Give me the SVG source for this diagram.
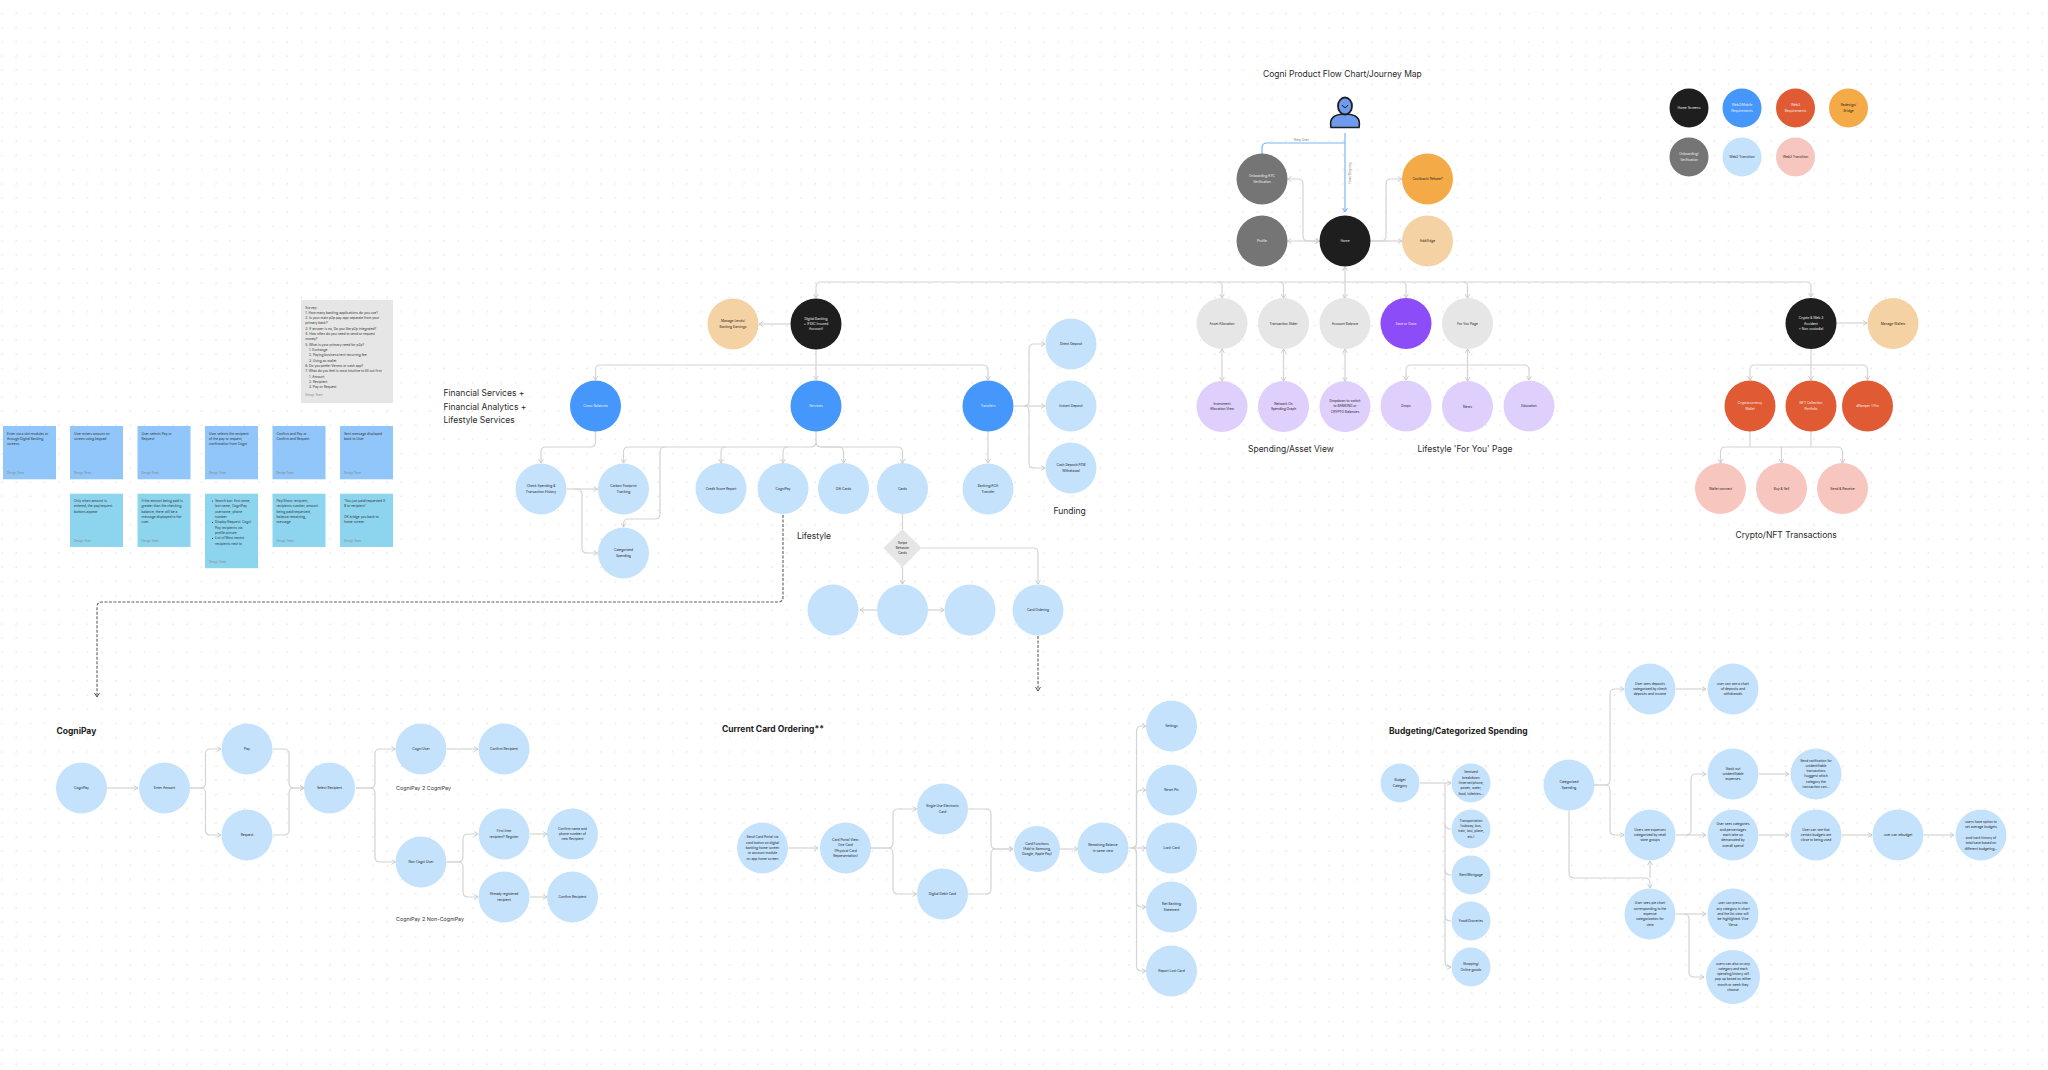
<svg xmlns="http://www.w3.org/2000/svg" width="2048" height="1070" viewBox="0 0 2048 1070">
<style>
text{font-family:"Inter","Liberation Sans",sans-serif}
.n text{font-size:3.3px;text-anchor:middle;fill:#1e1e1e}
.n .w{fill:#f2f2f2}
.dk{fill:#1e1e1e}.bl{fill:#4597fb}.rd{fill:#e05a33}.or{fill:#f4ab47}.gy{fill:#757575}.lb{fill:#c4e2fc}.pk{fill:#f7c6bf}.pc{fill:#f5d2a3}.lg{fill:#e6e6e6}.li{fill:#dfcffc}.pu{fill:#8c4df8}
.c{fill:none;stroke:#d4d4d4;stroke-width:1.2}
.a{marker-end:url(#ar)}
.b{marker-start:url(#al);marker-end:url(#ar)}
.blue{fill:none;stroke:#76b8fb;stroke-width:1.2}
.dash{fill:none;stroke:#5e5e5e;stroke-width:1.1;stroke-dasharray:3 1.5}
.h{font-size:8.5px;fill:#2a2a2a}
.hb{font-size:8.5px;font-weight:700;fill:#222}
.s{font-size:5.4px;fill:#333}
.st text{font-size:3.3px;fill:#333}
.st .f{font-size:2.8px;fill:#8a8a8a}
.lbl{font-size:3.2px;fill:#777}
</style>
<defs>
<pattern id="dots" x="1.7" y="-0.9" width="14.27" height="14.2" patternUnits="userSpaceOnUse"><rect x="-0.7" y="-0.7" width="1.4" height="1.4" fill="#d6d6d6"/><rect x="13.57" y="-0.7" width="0.7" height="1.4" fill="#d6d6d6"/><rect x="-0.7" y="13.5" width="1.4" height="0.7" fill="#d6d6d6"/></pattern>
<marker id="ar" viewBox="0 0 6 6" refX="5" refY="3" markerWidth="6" markerHeight="6" orient="auto" markerUnits="userSpaceOnUse"><path d="M1 .5L5 3L1 5.500" fill="none" stroke="#c8c8c8" stroke-width=".9"/></marker>
<marker id="al" viewBox="0 0 6 6" refX="1" refY="3" markerWidth="6" markerHeight="6" orient="auto" markerUnits="userSpaceOnUse"><path d="M5 .5L1 3L5 5.500" fill="none" stroke="#c8c8c8" stroke-width=".9"/></marker>
<marker id="ab" viewBox="0 0 6 6" refX="5" refY="3" markerWidth="6" markerHeight="6" orient="auto" markerUnits="userSpaceOnUse"><path d="M1 .5L5 3L1 5.500" fill="none" stroke="#6aaefa" stroke-width="1"/></marker>
<marker id="ad" viewBox="0 0 6 6" refX="5" refY="3" markerWidth="6" markerHeight="6" orient="auto" markerUnits="userSpaceOnUse"><path d="M1 .5L5 3L1 5.500" fill="none" stroke="#555" stroke-width="1"/></marker>
</defs>
<rect width="2048" height="1070" fill="#fff"/>
<rect width="2048" height="1070" fill="url(#dots)"/>

<g id="connectors">
<path class="blue" marker-end="url(#ab)" d="M1345 133V212"/>
<path class="blue" d="M1345 143H1267Q1262 143 1262 148V154"/>
<path class="c b" d="M1287.500 179H1298Q1303 179 1303 184V236Q1303 241 1308 241H1319.500"/>
<path class="c b" d="M1287.500 241H1319.500"/>
<path class="c a" d="M1370.500 241H1381Q1386 241 1386 236V184Q1386 179 1391 179H1402"/>
<path class="c a" d="M1370.500 241H1402"/>
<path class="c" marker-start="url(#al)" d="M1345 267V282"/>
<path class="c a" d="M1345 282H821Q816 282 816 287V298"/>
<path class="c a" d="M1345 282H1806Q1811 282 1811 287V297"/>
<path class="c a" d="M1218 282Q1222 282 1222 286V298"/>
<path class="c a" d="M1279.500 282Q1283.500 282 1283.500 286V298"/>
<path class="c a" d="M1345 282V298"/>
<path class="c a" d="M1402 282Q1406 282 1406 286V298"/>
<path class="c a" d="M1463.500 282Q1467.500 282 1467.500 286V298"/>
<path class="c a" d="M790 324H759"/>
<path class="c a" d="M816 349V380"/>
<path class="c a" d="M816 365H600.500Q595.500 365 595.500 370V380"/>
<path class="c a" d="M816 365H983Q988 365 988 370V380"/>
<path class="c a" d="M595.500 431V442Q595.500 447 590.500 447H546Q541 447 541 452V463"/>
<path class="c a" d="M816 431V442Q816 447 811 447H628.500Q623.500 447 623.500 452V463"/>
<path class="c a" d="M726 447Q721 447 721 452V463"/>
<path class="c a" d="M788 447Q783 447 783 452V463"/>
<path class="c a" d="M816 442Q816 447 821 447H838.500Q843.500 447 843.500 452V463"/>
<path class="c a" d="M821 447H897.500Q902.500 447 902.500 452V463"/>
<path class="c a" d="M665 447Q660 447 660 452V514Q660 519 655 519H628.500Q623.500 519 623.500 524V527"/>
<path class="c a" d="M566.500 489H597.500"/>
<path class="c a" d="M575 489Q582 489 582 494V548Q582 553 587 553H597.500"/>
<path class="c a" d="M988 431V463"/>
<path class="c a" d="M1014 406H1045"/>
<path class="c a" d="M1024 406Q1029 406 1029 401V349Q1029 344 1034 344H1045"/>
<path class="c a" d="M1024 406Q1029 406 1029 411V463Q1029 468 1034 468H1045"/>
<path class="c" d="M902.500 514V529"/>
<path class="c a" d="M902.500 567V584"/>
<path class="c a" d="M921.500 548H1033Q1038 548 1038 553V584"/>
<path class="c a" d="M877 610H860"/>
<path class="c a" d="M928 610H944"/>
<path class="dash" marker-end="url(#ad)" d="M783 515V597Q783 602 778 602H102Q97 602 97 607V697"/>
<path class="dash" marker-end="url(#ad)" d="M1038 636V691"/>
<path class="c b" d="M1222 349V381"/>
<path class="c b" d="M1283.500 349V381"/>
<path class="c b" d="M1345 349V381"/>
<path class="c b" d="M1467.500 349V381"/>
<path class="c a" d="M1467.500 365H1411Q1406 365 1406 370V380"/>
<path class="c a" d="M1467.500 365H1524Q1529 365 1529 370V380"/>
<path class="c a" d="M1811 348V380"/>
<path class="c a" d="M1811 365H1755Q1750 365 1750 370V380"/>
<path class="c a" d="M1811 365H1862.500Q1867.500 365 1867.500 370V380"/>
<path class="c a" d="M1836.500 323H1867"/>
<path class="c" d="M1750 431V447M1811 431V447"/>
<path class="c a" d="M1781.500 447H1725.500Q1720.500 447 1720.500 452V463"/>
<path class="c a" d="M1781.500 447H1837.500Q1842.500 447 1842.500 452V463"/>
<path class="c a" d="M1781.500 447V463"/>
<path class="c a" d="M107 788H138"/>
<path class="c a" d="M190 788H201Q205.500 788 205.500 783V754Q205.500 749 210 749H221"/>
<path class="c a" d="M190 788H201Q205.500 788 205.500 793V830Q205.500 835 210 835H221"/>
<path class="c a" d="M273 749H284Q289 749 289 754V783Q289 788 294 788H304"/>
<path class="c a" d="M273 835H284Q289 835 289 830V793Q289 788 294 788H304"/>
<path class="c a" d="M356 788H370Q375 788 375 783V754Q375 749 380 749H395.500"/>
<path class="c a" d="M356 788H370Q375 788 375 793V857Q375 862 380 862H395.500"/>
<path class="c a" d="M447 749H478"/>
<path class="c a" d="M447 862H458Q463 862 463 857V839Q463 834 468 834H478"/>
<path class="c a" d="M447 862H458Q463 862 463 867V892Q463 897 468 897H478"/>
<path class="c a" d="M530 834H547"/>
<path class="c a" d="M530 897H547"/>
<path class="c a" d="M788.500 848H818"/>
<path class="c a" d="M871 848H888Q893 848 893 843V814Q893 809 898 809H916.500"/>
<path class="c a" d="M871 848H888Q893 848 893 853V889Q893 894 898 894H916.500"/>
<path class="c a" d="M968 809H986Q991 809 991 814V844Q991 849 996 849H1013"/>
<path class="c a" d="M968 894H986Q991 894 991 889V854Q991 849 996 849H1013"/>
<path class="c a" d="M1060 849H1078"/>
<path class="c a" d="M1129 848H1146"/>
<path class="c a" d="M1131.500 848Q1136.500 848 1136.500 843V731Q1136.500 726 1141.500 726H1146"/>
<path class="c a" d="M1131.500 848Q1136.500 848 1136.500 843V795Q1136.500 790 1141.500 790H1146"/>
<path class="c a" d="M1131.500 848Q1136.500 848 1136.500 853V902Q1136.500 907 1141.500 907H1146"/>
<path class="c a" d="M1131.500 848Q1136.500 848 1136.500 853V966Q1136.500 971 1141.500 971H1146"/>
<path class="c a" d="M1420 783H1451"/>
<path class="c a" d="M1445 783V962Q1445 967 1451 967"/>
<path class="c" d="M1445 824Q1445 829 1451 829M1445 870Q1445 875 1451 875M1445 916Q1445 921 1451 921"/>
<path class="c a" d="M1594 785H1605Q1610 785 1610 780V694Q1610 689 1615 689H1624"/>
<path class="c a" d="M1594 785H1605Q1610 785 1610 790V830Q1610 835 1615 835H1624"/>
<path class="c a" d="M1569 810V873Q1569 878 1574 878H1645Q1650 878 1650 883V888"/>
<path class="c" marker-start="url(#al)" d="M1650 861V878"/>
<path class="c a" d="M1676 689H1706"/>
<path class="c a" d="M1676 835H1706"/>
<path class="c a" d="M1686 835Q1691 835 1691 830V779Q1691 774 1696 774H1706"/>
<path class="c a" d="M1759 774H1789"/>
<path class="c a" d="M1759 835H1789"/>
<path class="c a" d="M1842 835H1872"/>
<path class="c a" d="M1924 835H1954"/>
<path class="c a" d="M1676 914H1706"/>
<path class="c a" d="M1684 914Q1689 914 1689 919V972Q1689 977 1694 977H1704"/>
</g>
<text class="lbl" x="1301.500" y="140.500" text-anchor="middle">New User</text>
<text class="lbl" transform="translate(1351 173) rotate(-90)" text-anchor="middle">Next/Ongoing</text>

<g id="user">
<path d="M1331 127.500Q1328 114 1345 114Q1362 114 1359 127.500Z" fill="#6f9bee" stroke="#1e1e1e" stroke-width="1.600" stroke-linejoin="round"/>
<ellipse cx="1345" cy="106" rx="7" ry="8.500" fill="#6f9bee" stroke="#1e1e1e" stroke-width="1.800"/>
<path d="M1342 105Q1345 110 1348 105" fill="none" stroke="#1e1e1e" stroke-width="1"/>
</g>

<text id="title" class="h" x="1263" y="77">Cogni Product Flow Chart/Journey Map</text>

<g id="legend" class="n">
<g id="leg-home"><circle class="dk" cx="1689" cy="108" r="19.500"/><text class="w" x="1689" y="109">Home Screens</text></g>
<g id="leg-web2"><circle class="bl" cx="1742" cy="108" r="19.500"/><text class="w" x="1742" y="106.400">Web2/Mobile<tspan x="1742" dy="5.300">Requirements</tspan></text></g>
<g id="leg-web3"><circle class="rd" cx="1795.500" cy="108" r="19.500"/><text class="w" x="1795.500" y="106.400">Web3<tspan x="1795.500" dy="5.300">Requirements</tspan></text></g>
<g id="leg-redesign"><circle class="or" cx="1848.500" cy="108" r="19.500"/><text x="1848.500" y="106.400">Redesign/<tspan x="1848.500" dy="5.300">Bridge</tspan></text></g>
<g id="leg-onb"><circle class="gy" cx="1689" cy="157" r="19.500"/><text class="w" x="1689" y="155.400">Onboarding/<tspan x="1689" dy="5.300">Verification</tspan></text></g>
<g id="leg-web2t"><circle class="lb" cx="1742" cy="157" r="19.500"/><text x="1742" y="158">Web2 Transition</text></g>
<g id="leg-web3t"><circle class="pk" cx="1795.500" cy="157" r="19.500"/><text x="1795.500" y="158">Web3 Transition</text></g>
</g>

<g class="n">
<g id="onboarding"><circle class="gy" cx="1262" cy="179" r="25.500"/><text class="w" x="1262" y="177.400">Onboarding KYC<tspan x="1262" dy="5.300">Verification</tspan></text></g>
<g id="profile"><circle class="gy" cx="1262" cy="241" r="25.500"/><text class="w" x="1262" y="242">Profile</text></g>
<g id="home"><circle class="dk" cx="1345" cy="241" r="25.500"/><text class="w" x="1345" y="242">Home</text></g>
<g id="cashback"><circle class="or" cx="1427.500" cy="179" r="25.500"/><text x="1427.500" y="180">Cashback/ Rebate?</text></g>
<g id="addedge"><circle class="pc" cx="1427.500" cy="241" r="25.500"/><text x="1427.500" y="242">Add/Edge</text></g>
<g id="asset"><circle class="lg" cx="1222" cy="323.500" r="25.500"/><text x="1222" y="324.500">Asset Allocation</text></g>
<g id="slider"><circle class="lg" cx="1283.500" cy="323.500" r="25.500"/><text x="1283.500" y="324.500">Transaction Slider</text></g>
<g id="balance"><circle class="lg" cx="1345" cy="323.500" r="25.500"/><text x="1345" y="324.500">Account Balance</text></g>
<g id="purple"><circle class="pu" cx="1406" cy="323.500" r="25.500"/><text class="w" x="1406" y="324.500">Save or Grow</text></g>
<g id="foryou"><circle class="lg" cx="1467.500" cy="323.500" r="25.500"/><text x="1467.500" y="324.500">For You Page</text></g>
<g id="crypto"><circle class="dk" cx="1811" cy="323.500" r="25.500"/><text class="w" x="1811" y="319.200">Crypto &amp; Web 3<tspan x="1811" dy="5.300">Accident</tspan><tspan x="1811" dy="5.300">+ Non custodial</tspan></text></g>
<g id="wallets"><circle class="pc" cx="1893" cy="323.500" r="25.500"/><text x="1893" y="324.500">Manage Wallets</text></g>
<g id="lends"><circle class="pc" cx="733" cy="324" r="25.500"/><text x="733" y="322.400">Manage Lends/<tspan x="733" dy="5.300">Banking Earnings</tspan></text></g>
<g id="banking"><circle class="dk" cx="816" cy="324" r="25.500"/><text class="w" x="816" y="319.700">Digital Banking<tspan x="816" dy="5.300">+ (FDIC Insured</tspan><tspan x="816" dy="5.300">Account)</tspan></text></g>
<g id="cross"><circle class="bl" cx="595.500" cy="406" r="25.500"/><text class="w" x="595.500" y="407">Cross-Balances</text></g>
<g id="services"><circle class="bl" cx="816" cy="406" r="25.500"/><text class="w" x="816" y="407">Services</text></g>
<g id="transfers"><circle class="bl" cx="988" cy="406" r="25.500"/><text class="w" x="988" y="407">Transfers</text></g>
<g id="direct"><circle class="lb" cx="1071" cy="344" r="25.500"/><text x="1071" y="345">Direct Deposit</text></g>
<g id="instant"><circle class="lb" cx="1071" cy="406" r="25.500"/><text x="1071" y="407">Instant Deposit</text></g>
<g id="atm"><circle class="lb" cx="1071" cy="468" r="25.500"/><text x="1071" y="466.400">Cash Deposit/ATM<tspan x="1071" dy="5.300">Withdrawal</tspan></text></g>
<g id="check"><circle class="lb" cx="541" cy="489" r="25.500"/><text x="541" y="487.400">Check Spending &amp;<tspan x="541" dy="5.300">Transaction History</tspan></text></g>
<g id="carbon"><circle class="lb" cx="623.500" cy="489" r="25.500"/><text x="623.500" y="487.400">Carbon Footprint<tspan x="623.500" dy="5.300">Tracking</tspan></text></g>
<g id="score"><circle class="lb" cx="721" cy="488.500" r="25.500"/><text x="721" y="489.500">Credit Score Report</text></g>
<g id="cognipay"><circle class="lb" cx="783" cy="488.500" r="25.500"/><text x="783" y="489.500">CogniPay</text></g>
<g id="gift"><circle class="lb" cx="843.500" cy="488.500" r="25.500"/><text x="843.500" y="489.500">Gift Cards</text></g>
<g id="cards"><circle class="lb" cx="902.500" cy="488.500" r="25.500"/><text x="902.500" y="489.500">Cards</text></g>
<g id="ach"><circle class="lb" cx="988" cy="489" r="25.500"/><text x="988" y="487.400">Banking/ACH<tspan x="988" dy="5.300">Transfer</tspan></text></g>
<g id="categorized"><circle class="lb" cx="623.500" cy="553" r="25.500"/><text x="623.500" y="551.400">Categorized<tspan x="623.500" dy="5.300">Spending</tspan></text></g>
<g id="badge"><path class="lg" d="M902.500 529L921.500 548L902.500 567.500L883.500 548Z"/><text x="902.500" y="543.600">Swipe<tspan x="902.500" dy="5.300">Behavior</tspan><tspan x="902.500" dy="5.300">Cards</tspan></text></g>
<circle id="blank1" class="lb" cx="833" cy="610" r="25.500"/>
<circle id="blank2" class="lb" cx="902.500" cy="610" r="25.500"/>
<circle id="blank3" class="lb" cx="970" cy="610" r="25.500"/>
<g id="ordering"><circle class="lb" cx="1038" cy="610" r="25.500"/><text x="1038" y="611">Card Ordering</text></g>
<g id="invest"><circle class="li" cx="1222" cy="406.500" r="25.500"/><text x="1222" y="405">Investment<tspan x="1222" dy="5.300">Allocation View</tspan></text></g>
<g id="network"><circle class="li" cx="1283.500" cy="406.500" r="25.500"/><text x="1283.500" y="405">Network On<tspan x="1283.500" dy="5.300">Spending Graph</tspan></text></g>
<g id="dropdown"><circle class="li" cx="1345" cy="406.500" r="25.500"/><text x="1345" y="402">Dropdown to switch<tspan x="1345" dy="5.300">to BANKING or</tspan><tspan x="1345" dy="5.300">CRYPTO Balances</tspan></text></g>
<g id="drops"><circle class="li" cx="1406" cy="406" r="25.500"/><text x="1406" y="407">Drops</text></g>
<g id="news"><circle class="li" cx="1467.500" cy="406.500" r="25.500"/><text x="1467.500" y="407.500">News</text></g>
<g id="education"><circle class="li" cx="1529" cy="406" r="25.500"/><text x="1529" y="407">Education</text></g>
<g id="cwallet"><circle class="rd" cx="1750" cy="406" r="25.500"/><text class="w" x="1750" y="404.400">Cryptocurrency<tspan x="1750" dy="5.300">Wallet</tspan></text></g>
<g id="nft"><circle class="rd" cx="1811" cy="406" r="25.500"/><text class="w" x="1811" y="404.400">NFT Collection<tspan x="1811" dy="5.300">Portfolio</tspan></text></g>
<g id="eth"><circle class="rd" cx="1867.500" cy="406" r="25.500"/><text class="w" x="1867.500" y="407">dRamper 1 Pro</text></g>
<g id="connect"><circle class="pk" cx="1720.500" cy="488.500" r="25.500"/><text x="1720.500" y="489.500">Wallet connect</text></g>
<g id="buysell"><circle class="pk" cx="1781.500" cy="488.500" r="25.500"/><text x="1781.500" y="489.500">Buy &amp; Sell</text></g>
<g id="send"><circle class="pk" cx="1842.500" cy="488.500" r="25.500"/><text x="1842.500" y="489.500">Send &amp; Receive</text></g>

<g id="cp1"><circle class="lb" cx="81.500" cy="788" r="25.500"/><text x="81.500" y="789">CogniPay</text></g>
<g id="cp2"><circle class="lb" cx="164.500" cy="788" r="25.500"/><text x="164.500" y="789">Enter Amount</text></g>
<g id="cp3"><circle class="lb" cx="247" cy="749" r="25.500"/><text x="247" y="750">Pay</text></g>
<g id="cp4"><circle class="lb" cx="247" cy="835" r="25.500"/><text x="247" y="836">Request</text></g>
<g id="cp5"><circle class="lb" cx="329.500" cy="788" r="25.500"/><text x="329.500" y="789">Select Recipient</text></g>
<g id="cp6"><circle class="lb" cx="421" cy="749" r="25.500"/><text x="421" y="750">Cogni User</text></g>
<g id="cp7"><circle class="lb" cx="504" cy="749" r="25.500"/><text x="504" y="750">Confirm Recipient</text></g>
<g id="cp8"><circle class="lb" cx="421" cy="862" r="25.500"/><text x="421" y="863">Non Cogni User</text></g>
<g id="cp9"><circle class="lb" cx="504" cy="834" r="25.500"/><text x="504" y="832.400">First time<tspan x="504" dy="5.300">recipient? Register</tspan></text></g>
<g id="cp10"><circle class="lb" cx="504" cy="897" r="25.500"/><text x="504" y="895.400">Already registered<tspan x="504" dy="5.300">recipient</tspan></text></g>
<g id="cp11"><circle class="lb" cx="572.500" cy="834" r="25.500"/><text x="572.500" y="829.700">Confirm name and<tspan x="572.500" dy="5.300">phone number of</tspan><tspan x="572.500" dy="5.300">new Recipient</tspan></text></g>
<g id="cp12"><circle class="lb" cx="572.500" cy="897" r="25.500"/><text x="572.500" y="898">Confirm Recipient</text></g>

<g id="co1"><circle class="lb" cx="762.500" cy="848" r="25.500"/><text x="762.500" y="838.400">Send Card Portal via<tspan x="762.500" dy="5.300">card button on digital</tspan><tspan x="762.500" dy="5.300">banking home screen</tspan><tspan x="762.500" dy="5.300">or account module</tspan><tspan x="762.500" dy="5.300">on app home screen</tspan></text></g>
<g id="co2"><circle class="lb" cx="845.500" cy="848" r="25.500"/><text x="845.500" y="841">Card Portal View:<tspan x="845.500" dy="5.300">One Card</tspan><tspan x="845.500" dy="5.300">(Physical Card</tspan><tspan x="845.500" dy="5.300">Representation)</tspan></text></g>
<g id="co3"><circle class="lb" cx="942.500" cy="809" r="25.500"/><text x="942.500" y="807.400">Single Use Electronic<tspan x="942.500" dy="5.300">Card</tspan></text></g>
<g id="co4"><circle class="lb" cx="942.500" cy="894" r="25.500"/><text x="942.500" y="895">Digital Debit Card</text></g>
<g id="co5"><circle class="lb" cx="1037" cy="849" r="23"/><text x="1037" y="844.700">Card Functions<tspan x="1037" dy="5.300">(Add to Samsung,</tspan><tspan x="1037" dy="5.300">Google, Apple Pay)</tspan></text></g>
<g id="co6"><circle class="lb" cx="1103" cy="848" r="25.500"/><text x="1103" y="846.400">Remaining Balance<tspan x="1103" dy="5.300">in same view</tspan></text></g>
<g id="co7"><circle class="lb" cx="1171.500" cy="726" r="25.500"/><text x="1171.500" y="727">Settings</text></g>
<g id="co8"><circle class="lb" cx="1171.500" cy="790" r="25.500"/><text x="1171.500" y="791">Reset Pin</text></g>
<g id="co9"><circle class="lb" cx="1171.500" cy="848" r="25.500"/><text x="1171.500" y="849">Lock Card</text></g>
<g id="co10"><circle class="lb" cx="1171.500" cy="907" r="25.500"/><text x="1171.500" y="905.400">Net Banking<tspan x="1171.500" dy="5.300">Statement</tspan></text></g>
<g id="co11"><circle class="lb" cx="1171.500" cy="971" r="25.500"/><text x="1171.500" y="972">Report Lost Card</text></g>

<g id="bu1"><circle class="lb" cx="1400" cy="783" r="19.500"/><text x="1400" y="781.400">Budget<tspan x="1400" dy="5.300">Category</tspan></text></g>
<g id="bu2"><circle class="lb" cx="1471" cy="783" r="19.500"/><text x="1471" y="773.400">Itemized<tspan x="1471" dy="5.300">breakdown</tspan><tspan x="1471" dy="5.300">(internet/phone,</tspan><tspan x="1471" dy="5.300">power, water,</tspan><tspan x="1471" dy="5.300">food, toiletries...</tspan></text></g>
<g id="bu3"><circle class="lb" cx="1471" cy="829" r="19.500"/><text x="1471" y="821.700">Transportation<tspan x="1471" dy="5.300">(subway, bus,</tspan><tspan x="1471" dy="5.300">train, taxi, plane,</tspan><tspan x="1471" dy="5.300">etc.)</tspan></text></g>
<g id="bu4"><circle class="lb" cx="1471" cy="875" r="19.500"/><text x="1471" y="876">Rent/Mortgage</text></g>
<g id="bu5"><circle class="lb" cx="1471" cy="921" r="19.500"/><text x="1471" y="922">Food/Groceries</text></g>
<g id="bu6"><circle class="lb" cx="1471" cy="967" r="19.500"/><text x="1471" y="965.400">Shopping/<tspan x="1471" dy="5.300">Online goods</tspan></text></g>
<g id="cs1"><circle class="lb" cx="1569" cy="785" r="25.500"/><text x="1569" y="783.400">Categorized<tspan x="1569" dy="5.300">Spending</tspan></text></g>
<g id="cs2"><circle class="lb" cx="1650" cy="689" r="25.500"/><text x="1650" y="684.700">User sees deposits<tspan x="1650" dy="5.300">categorized by check</tspan><tspan x="1650" dy="5.300">deposits and income</tspan></text></g>
<g id="cs3"><circle class="lb" cx="1733" cy="689" r="25.500"/><text x="1733" y="684.700">user can see a chart<tspan x="1733" dy="5.300">of deposits and</tspan><tspan x="1733" dy="5.300">withdrawals</tspan></text></g>
<g id="cs4"><circle class="lb" cx="1733" cy="774" r="25.500"/><text x="1733" y="769.700">Stack out<tspan x="1733" dy="5.300">unidentifiable</tspan><tspan x="1733" dy="5.300">expenses</tspan></text></g>
<g id="cs5"><circle class="lb" cx="1816" cy="774" r="25.500"/><text x="1816" y="761.500">Send notification for<tspan x="1816" dy="5.300">unidentifiable</tspan><tspan x="1816" dy="5.300">transactions</tspan><tspan x="1816" dy="5.300">(suggest which</tspan><tspan x="1816" dy="5.300">category the</tspan><tspan x="1816" dy="5.300">transaction can...</tspan></text></g>
<g id="cs6"><circle class="lb" cx="1650" cy="835" r="25.500"/><text x="1650" y="830.700">Users see expenses<tspan x="1650" dy="5.300">categorized by retail</tspan><tspan x="1650" dy="5.300">store groups</tspan></text></g>
<g id="cs7"><circle class="lb" cx="1733" cy="835" r="25.500"/><text x="1733" y="825.400">User sees categories<tspan x="1733" dy="5.300">and percentages</tspan><tspan x="1733" dy="5.300">each take up</tspan><tspan x="1733" dy="5.300">demarcated by</tspan><tspan x="1733" dy="5.300">overall spend</tspan></text></g>
<g id="cs8"><circle class="lb" cx="1816" cy="835" r="25.500"/><text x="1816" y="830.700">User can see that<tspan x="1816" dy="5.300">certain budgets are</tspan><tspan x="1816" dy="5.300">close to being used</tspan></text></g>
<g id="cs9"><circle class="lb" cx="1898" cy="835" r="25.500"/><text x="1898" y="836">user can rebudget</text></g>
<g id="cs10"><circle class="lb" cx="1981" cy="835" r="25.500"/><text x="1981" y="823">users have option to<tspan x="1981" dy="5.300">set average budgets</tspan><tspan x="1981" dy="10.600">and track history of</tspan><tspan x="1981" dy="5.300">total/save based on</tspan><tspan x="1981" dy="5.300">different budgeting...</tspan></text></g>
<g id="cs11"><circle class="lb" cx="1650" cy="914" r="25.500"/><text x="1650" y="904.400">User sees pie chart<tspan x="1650" dy="5.300">corresponding to the</tspan><tspan x="1650" dy="5.300">expense</tspan><tspan x="1650" dy="5.300">categorization for</tspan><tspan x="1650" dy="5.300">view</tspan></text></g>
<g id="cs12"><circle class="lb" cx="1733" cy="914" r="25.500"/><text x="1733" y="904.400">user can press into<tspan x="1733" dy="5.300">any category in chart</tspan><tspan x="1733" dy="5.300">and the list view will</tspan><tspan x="1733" dy="5.300">be highlighted. Vice</tspan><tspan x="1733" dy="5.300">Versa</tspan></text></g>
<g id="cs13"><circle class="lb" cx="1733" cy="977" r="27"/><text x="1733" y="964.500">users can also on any<tspan x="1733" dy="5.300">category and each</tspan><tspan x="1733" dy="5.300">spending history will</tspan><tspan x="1733" dy="5.300">pop up based on either</tspan><tspan x="1733" dy="5.300">month or week they</tspan><tspan x="1733" dy="5.300">choose</tspan></text></g>
</g>

<g id="labels">
<text class="h" x="443.500" y="396">Financial Services +</text>
<text class="h" x="443.500" y="409.500">Financial Analytics +</text>
<text class="h" x="443.500" y="423">Lifestyle Services</text>
<text class="h" x="797" y="539">Lifestyle</text>
<text class="h" x="1053.500" y="514">Funding</text>
<text class="h" x="1248" y="452">Spending/Asset View</text>
<text class="h" x="1417.500" y="452">Lifestyle 'For You' Page</text>
<text class="h" x="1735.500" y="538">Crypto/NFT Transactions</text>
<text class="hb" x="56.500" y="734">CogniPay</text>
<text class="hb" x="722" y="732">Current Card Ordering**</text>
<text class="hb" x="1389" y="734">Budgeting/Categorized Spending</text>
<text class="s" x="396" y="790">CogniPay 2 CogniPay</text>
<text class="s" x="396" y="921">CogniPay 2 Non-CogniPay</text>
</g>

<g id="survey" class="st">
<rect x="301" y="300" width="92" height="103" fill="#e6e6e6"/>
<text x="305.300" y="308.500">Survey:<tspan x="305.300" dy="5.330">1. How many banking applications do you use?</tspan><tspan x="305.300" dy="5.330">2. Is your main p2p pay app separate from your</tspan><tspan x="305.300" dy="5.330">primary bank?</tspan><tspan x="305.300" dy="5.330">3. If answer is no, Do you like p2p integrated?</tspan><tspan x="305.300" dy="5.330">4. How often do you need to send or request</tspan><tspan x="305.300" dy="5.330">money?</tspan><tspan x="305.300" dy="5.330">5. What is your primary need for p2p?</tspan><tspan x="309" dy="5.330">1. Exchange</tspan><tspan x="309" dy="5.330">2. Paying business/rent recurring fee</tspan><tspan x="309" dy="5.330">3. Using as wallet</tspan><tspan x="305.300" dy="5.330">6. Do you prefer Venmo or cash app?</tspan><tspan x="305.300" dy="5.330">7. What do you feel is most intuitive to fill out first</tspan><tspan x="309" dy="5.330">1. Amount</tspan><tspan x="309" dy="5.330">2. Recipient</tspan><tspan x="309" dy="5.330">3. Pay or Request</tspan></text>
<text class="f" x="305.300" y="396">Design Team</text>
</g>
<g id="stickies-top" class="st">
<g id="s1"><rect x="3" y="426" width="53" height="53.300" fill="#90c6f9"/><text x="7" y="434.500">Enter via a slot modules or<tspan x="7" dy="5.330">through Digital Banking</tspan><tspan x="7" dy="5.330">screens</tspan></text><text class="f" x="7" y="474">Design Team</text></g>
<g id="s2"><rect x="70" y="426" width="53" height="53.300" fill="#90c6f9"/><text x="74" y="434.500">User enters amount on<tspan x="74" dy="5.330">screen using keypad</tspan></text><text class="f" x="74" y="474">Design Team</text></g>
<g id="s3"><rect x="137.500" y="426" width="53" height="53.300" fill="#90c6f9"/><text x="141.500" y="434.500">User selects Pay or<tspan x="141.500" dy="5.330">Request</tspan></text><text class="f" x="141.500" y="474">Design Team</text></g>
<g id="s4"><rect x="205" y="426" width="53" height="53.300" fill="#90c6f9"/><text x="209" y="434.500">User selects the recipient<tspan x="209" dy="5.330">of the pay or request,</tspan><tspan x="209" dy="5.330">confirmation from Cogni</tspan></text><text class="f" x="209" y="474">Design Team</text></g>
<g id="s5"><rect x="272.500" y="426" width="53" height="53.300" fill="#90c6f9"/><text x="276.500" y="434.500">Confirm and Pay or<tspan x="276.500" dy="5.330">Confirm and Request</tspan></text><text class="f" x="276.500" y="474">Design Team</text></g>
<g id="s6"><rect x="340" y="426" width="53" height="53.300" fill="#90c6f9"/><text x="344" y="434.500">Sent message displayed<tspan x="344" dy="5.330">back to User</tspan></text><text class="f" x="344" y="474">Design Team</text></g>
</g>
<g id="stickies-bottom" class="st">
<g id="s7"><rect x="70" y="493.700" width="53" height="53.300" fill="#8dd5ee"/><text x="74" y="502">Only when amount is<tspan x="74" dy="5.330">entered, the pay/request</tspan><tspan x="74" dy="5.330">buttons appear</tspan></text><text class="f" x="74" y="541.500">Design Team</text></g>
<g id="s8"><rect x="137.500" y="493.700" width="53" height="53.300" fill="#8dd5ee"/><text x="141.500" y="502">If the amount being paid is<tspan x="141.500" dy="5.330">greater than the checking</tspan><tspan x="141.500" dy="5.330">balance, there will be a</tspan><tspan x="141.500" dy="5.330">message displayed to the</tspan><tspan x="141.500" dy="5.330">user.</tspan></text><text class="f" x="141.500" y="541.500">Design Team</text></g>
<g id="s9"><rect x="205" y="493.700" width="53" height="74.500" fill="#8dd5ee"/><text x="215" y="502">Search bar: first name,<tspan x="215" dy="5.330">last name, CogniPay</tspan><tspan x="215" dy="5.330">username, phone</tspan><tspan x="215" dy="5.330">number</tspan><tspan x="215" dy="5.330">Display Request: Cogni</tspan><tspan x="215" dy="5.330">Pay recipients via</tspan><tspan x="215" dy="5.330">profile picture</tspan><tspan x="215" dy="5.330">List of Most recent</tspan><tspan x="215" dy="5.330">recipients next to</tspan></text><circle cx="212.500" cy="501" r=".6" fill="#333"/><circle cx="212.500" cy="522.300" r=".6" fill="#333"/><circle cx="212.500" cy="538.300" r=".6" fill="#333"/><text class="f" x="209" y="563">Design Team</text></g>
<g id="s10"><rect x="272.500" y="493.700" width="53" height="53.300" fill="#8dd5ee"/><text x="276.500" y="502">Pay/Show: recipient,<tspan x="276.500" dy="5.330">recipients number, amount</tspan><tspan x="276.500" dy="5.330">being paid/requested,</tspan><tspan x="276.500" dy="5.330">balance remaining,</tspan><tspan x="276.500" dy="5.330">message</tspan></text><text class="f" x="276.500" y="541.500">Design Team</text></g>
<g id="s11"><rect x="340" y="493.700" width="53" height="53.300" fill="#8dd5ee"/><text x="344" y="502">'You just paid/requested X<tspan x="344" dy="5.330">$ to recipient.'</tspan><tspan x="344" dy="10.660">OK bridge you back to</tspan><tspan x="344" dy="5.330">home screen</tspan></text><text class="f" x="344" y="541.500">Design Team</text></g>
</g>
</svg>
